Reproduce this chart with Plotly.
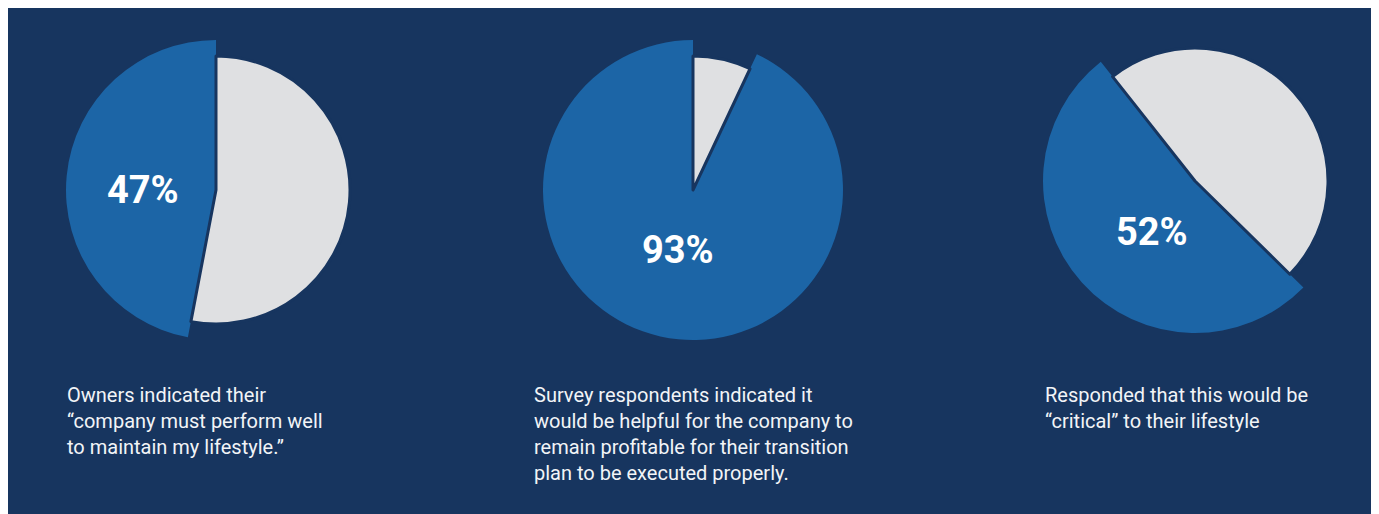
import plotly.graph_objects as go

# ---- data ----
panel_ids = ["lifestyle", "profitable", "critical"]
blue_values = [47, 93, 52]
gray_values = [53, 7, 48]
pct_labels = ["47%", "93%", "52%"]
captions = [
    ["Owners indicated their", "\u201ccompany must perform well", "to maintain my lifestyle.\u201d"],
    ["Survey respondents indicated it", "would be helpful for the company to",
     "remain profitable for their transition", "plan to be executed properly."],
    ["Responded that this would be", "\u201ccritical\u201d to their lifestyle"],
]

# ---- style / layout (pixels of the screenshot) ----
W, H = 1373, 506
OFF = 8  # page body margin
NAVY = "#17355F"
BLUE = "#1C65A6"
GRAY = "#DFE0E2"
TXT = "#F2F4F7"

centers = [(216, 190), (693, 190), (1195, 181)]
r_big = [150, 150, 152]
r_small = [134, 134, 133]
gray_first = [True, True, False]
rotations = [0, 0, 134.5]
pct_pos = [(143, 190), (678, 250), (1152, 232)]
cap_pos = [(66, 382), (533, 382), (1044, 382)]


def px_x(X):
    return (X - OFF) / W


def px_y(Y):
    return 1 - (Y - OFF) / H


def domain(c, r):
    cx, cy = c
    return dict(x=[px_x(cx - r), px_x(cx + r)], y=[px_y(cy + r), px_y(cy - r)])


fig = go.Figure()
for i in range(3):
    if gray_first[i]:
        labels = ["other", "share"]
        vals = [gray_values[i], blue_values[i]]
        big_cols = ["rgba(0,0,0,0)", BLUE]
        small_cols = [GRAY, "rgba(0,0,0,0)"]
        small_lw = [3, 0]
    else:
        labels = ["share", "other"]
        vals = [blue_values[i], gray_values[i]]
        big_cols = [BLUE, "rgba(0,0,0,0)"]
        small_cols = ["rgba(0,0,0,0)", GRAY]
        small_lw = [0, 3]
    fig.add_trace(go.Pie(
        labels=labels, values=vals, sort=False, direction="clockwise",
        rotation=rotations[i], textinfo="none", hoverinfo="skip",
        marker=dict(colors=big_cols, line=dict(width=0)),
        domain=domain(centers[i], r_big[i]), showlegend=False,
    ))
    fig.add_trace(go.Pie(
        labels=labels, values=vals, sort=False, direction="clockwise",
        rotation=rotations[i], textinfo="none", hoverinfo="skip",
        marker=dict(colors=small_cols, line=dict(width=small_lw, color=NAVY)),
        domain=domain(centers[i], r_small[i]), showlegend=False,
    ))
    fig.add_annotation(
        x=px_x(pct_pos[i][0]), y=px_y(pct_pos[i][1]), xref="paper", yref="paper",
        text=f"<b>{pct_labels[i]}</b>", showarrow=False,
        font=dict(family="Roboto", size=38, color="white"),
        xanchor="center", yanchor="middle",
    )
    fig.add_annotation(
        x=px_x(cap_pos[i][0]), y=px_y(cap_pos[i][1]), xref="paper", yref="paper",
        text="<br>".join(captions[i]), showarrow=False, align="left",
        font=dict(family="Roboto", size=20, color=TXT),
        xanchor="left", yanchor="top", borderpad=0,
    )

fig.update_layout(
    width=W, height=H, autosize=False, margin=dict(l=0, r=0, t=0, b=0),
    paper_bgcolor=NAVY, plot_bgcolor=NAVY,
)
fig.write_html("out.html", config={"responsive": False})
